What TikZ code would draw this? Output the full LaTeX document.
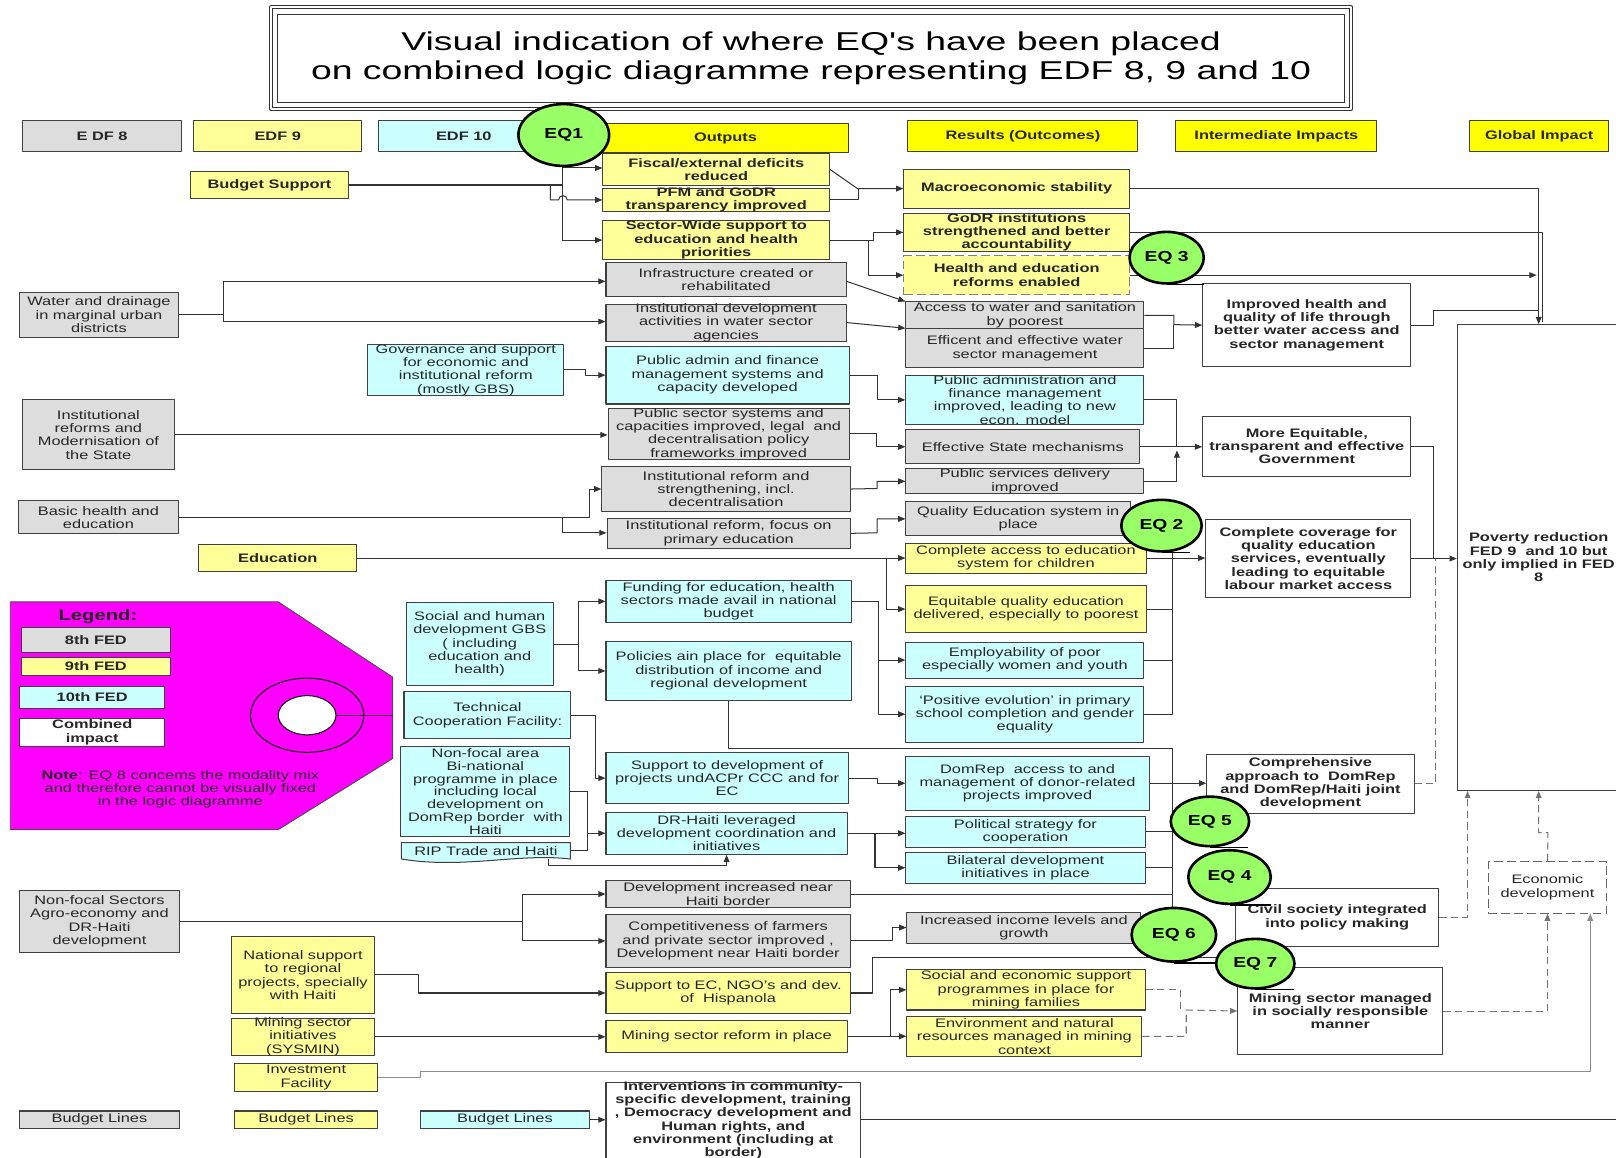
\documentclass[tikz,border=0pt]{standalone}
\usepackage{fontspec}
\setmainfont{Liberation Sans}[FakeStretch=1.33]
\newfontfamily\titlefont{Liberation Sans}[FakeStretch=1.45]
\usetikzlibrary{arrows.meta,calc,positioning,shapes.geometric,backgrounds}
\definecolor{edfgrey}{HTML}{DDDDDD}
\definecolor{edfyellow}{HTML}{FFFF99}
\definecolor{hdyellow}{HTML}{FFFF00}
\definecolor{edfcyan}{HTML}{CCFFFF}
\definecolor{eqgreen}{HTML}{99FF66}
\definecolor{legmag}{HTML}{FF00FF}

\begin{document}
\begin{tikzpicture}[x=0.025cm, y=-0.025cm, >={Triangle[length=5pt,width=4pt]}, line join=round,
	box/.style={draw=black!75, line width=0.7pt, inner xsep=0.5pt, inner ysep=-3pt, align=center, text=black!85, font=\fontsize{8.5}{9.2}\selectfont},
	bbox/.style={box, font=\fontsize{8.5}{9.2}\selectfont\bfseries},
	eighth/.style={box, fill=edfgrey},
	ninth/.style={box, fill=edfyellow},
	ninthb/.style={bbox, fill=edfyellow},
	tenth/.style={box, fill=edfcyan},
	head/.style={bbox, fill=hdyellow},
	impact/.style={bbox, fill=white},
	titlebox/.style={draw=black!80, double, double distance=1.6pt, line width=0.6pt, align=center, inner sep=0pt, font=\titlefont\fontsize{17.8}{20.5}\selectfont},
	eq/.style={ellipse, draw=black, line width=1.8pt, fill=eqgreen, inner sep=0pt, font=\fontsize{10}{12}\selectfont\bfseries},
	conn/.style={draw=black!80, line width=0.7pt},
	dashlink/.style={conn, draw=black!55, dash pattern=on 5pt off 3pt}]
	\def\bx#1#2#3#4#5#6#7{\node[#2, minimum width={(#5-#3)*0.025cm}, minimum height={(#6-#4)*0.025cm}] (#1) at ({(#3+#5)/2},{(#4+#6)/2}) {#7};}
	\useasboundingbox (0,0) rectangle (1568,1123);

	% --- 1. TITLE AND COLUMN HEADERS ---
	\bx{title}{titlebox}{263}{7}{1311}{106}{Visual indication of where EQ's have been placed\\on combined logic diagramme representing EDF 8, 9 and 10}
	\draw[black!80, line width=0.6pt] ([shift={(7,7)}]title.north west) rectangle ([shift={(-7,-7)}]title.south east);
	\bx{hedf8}{bbox,fill=edfgrey}{22}{117}{176}{147}{E DF 8}
	\bx{hedf9}{bbox,fill=edfyellow}{188}{117}{351}{147}{EDF 9}
	\bx{hedf10}{bbox,fill=edfcyan}{367}{117}{533}{147}{EDF 10}
	\bx{hout}{head}{585}{120}{823}{148}{Outputs}
	\bx{hres}{head}{881}{117}{1104}{147}{Results (Outcomes)}
	\bx{himp}{head}{1141}{117}{1336}{147}{Intermediate Impacts}
	\bx{hglob}{head}{1426}{117}{1561}{147}{Global Impact}

	% --- 2. INPUTS (EDF 8, 9, 10) ---
	\bx{bsup}{ninthb}{185}{166}{338}{193}{Budget Support}
	\bx{edu}{ninthb}{193}{528}{346}{555}{Education}
	\bx{water}{eighth}{19}{284}{173}{327}{Water and drainage\\in marginal urban\\districts}
	\bx{modern}{eighth}{22}{388}{169}{456}{Institutional\\reforms and\\Modernisation of\\the State}
	\bx{basic}{eighth}{18}{486}{173}{518}{Basic health and\\education}
	\bx{nonfoc}{eighth}{19}{864}{174}{924}{Non-focal Sectors\\Agro-economy and\\DR-Haiti\\development}
	\bx{blgrey}{eighth}{19}{1078}{174}{1095}{Budget Lines}
	\bx{gov}{tenth}{357}{334}{547}{384}{Governance and support\\for economic and\\institutional reform\\(mostly GBS)}
	\bx{social}{tenth}{394}{585}{537}{665}{Social and human\\development GBS\\( including\\education and\\health)}
	\bx{tcf}{tenth}{392}{671}{554}{717}{Technical\\Cooperation Facility:}
	\bx{binat}{tenth,font=\fontsize{8.5}{8.9}\selectfont}{389}{724}{553}{812}{Non-focal area\\Bi-national\\programme in place\\including local\\development on\\DomRep border~ with\\Haiti}
	\bx{rip}{box,draw=none}{390}{818}{553}{833}{RIP Trade and Haiti}
	\begin{pgfonlayer}{background}
		\filldraw[fill=edfcyan, draw=black!75, line width=0.7pt] (rip.south west) -- (rip.north west) -- (rip.north east) -- (rip.south east) .. controls +(-50,-6) and +(60,10) .. (rip.south west) -- cycle;
	\end{pgfonlayer}
	\bx{natsup}{ninth}{225}{909}{363}{983}{National support\\to regional\\projects, specially\\with Haiti}
	\bx{sysmin}{ninth}{225}{988}{363}{1024}{Mining sector\\initiatives\\(SYSMIN)}
	\bx{invest}{ninth}{228}{1032}{366}{1059}{Investment\\Facility}
	\bx{blyell}{ninth}{228}{1078}{366}{1095}{Budget Lines}
	\bx{blcyan}{tenth}{408}{1078}{572}{1095}{Budget Lines}

	% --- 3. OUTPUTS ---
	\bx{fisc}{ninthb}{585}{149}{805}{180}{Fiscal/external deficits\\reduced}
	\bx{pfm}{ninthb}{585}{183}{805}{205}{PFM and GoDR\\transparency improved}
	\bx{swap}{ninthb}{585}{214}{805}{252}{Sector-Wide support to\\education and health\\priorities}
	\bx{infra}{eighth}{588}{255}{821}{288}{Infrastructure created or\\rehabilitated}
	\bx{instdev}{eighth}{588}{295}{821}{331}{Institutional development\\activities in water sector\\agencies}
	\bx{padmin}{tenth}{588}{336}{824}{392}{Public admin and finance\\management systems and\\capacity developed}
	\bx{psector}{eighth}{590}{396}{824}{446}{Public sector systems and\\capacities improved, legal~ and\\decentralisation policy\\frameworks improved}
	\bx{instref}{eighth}{584}{453}{825}{496}{Institutional reform and\\strengthening, incl.\\decentralisation}
	\bx{instprim}{eighth}{589}{503}{825}{532}{Institutional reform, focus on\\primary education}
	\bx{fund}{tenth}{588}{563}{826}{604}{Funding for education, health\\sectors made avail in national\\budget}
	\bx{policy}{tenth}{588}{622}{826}{680}{Policies ain place for~ equitable\\distribution of income and\\regional development}
	\bx{suppacp}{tenth}{588}{730}{823}{780}{Support to development of\\projects undACPr CCC and for\\EC}
	\bx{drhaiti}{tenth}{588}{788}{822}{829}{DR-Haiti leveraged\\development coordination and\\initiatives}
	\bx{devbord}{eighth}{588}{854}{825}{881}{Development increased near\\Haiti border}
	\bx{compet}{eighth}{588}{887}{825}{939}{Competitiveness of farmers\\and private sector improved ,\\Development near Haiti border}
	\bx{suppec}{ninth}{588}{944}{825}{983}{Support to EC, NGO's and dev.\\of~ Hispanola}
	\bx{minref}{ninth}{588}{990}{822}{1021}{Mining sector reform in place}
	\bx{interv}{impact}{588}{1050}{835}{1124}{Interventions in community-\\specific development, training\\, Democracy development and\\Human rights, and\\environment (including at\\border)}

	% --- 4. RESULTS (OUTCOMES) ---
	\bx{macro}{ninthb}{877}{164}{1096}{202}{Macroeconomic stability}
	\bx{godr}{ninthb}{877}{207}{1096}{244}{GoDR institutions\\strengthened and better\\accountability}
	\bx{hereform}{ninthb,draw=black!50,dash pattern=on 6pt off 3pt}{877}{248}{1096}{286}{Health and education\\reforms enabled}
	\bx{access}{eighth}{879}{293}{1110}{319}{Access to water and sanitation\\by poorest}
	\bx{effic}{eighth}{879}{319}{1110}{357}{Efficent and effective water\\sector management}
	\bx{pafin}{tenth}{879}{364}{1110}{412}{Public administration and\\finance management\\improved, leading to new\\econ. model}
	\bx{effstate}{eighth}{879}{417}{1106}{450}{Effective State mechanisms}
	\bx{pubserv}{eighth}{879}{455}{1110}{479}{Public services delivery\\improved}
	\bx{quality}{eighth}{879}{487}{1097}{520}{Quality Education system in\\place}
	\bx{compacc}{ninth}{879}{527}{1112}{556}{Complete access to education\\system for children}
	\bx{equit}{ninth}{879}{568}{1112}{614}{Equitable quality education\\delivered, especially to poorest}
	\bx{employ}{tenth}{879}{623}{1110}{658}{Employability of poor\\especially women and youth}
	\bx{posevo}{tenth}{879}{666}{1110}{720}{`Positive evolution' in primary\\school completion and gender\\equality}
	\bx{domrep}{tenth}{879}{734}{1115}{786}{DomRep~ access to and\\management of donor-related\\projects improved}
	\bx{polstrat}{tenth}{879}{792}{1111}{822}{Political strategy for\\cooperation}
	\bx{bilat}{tenth}{879}{827}{1111}{857}{Bilateral development\\initiatives in place}
	\bx{income}{eighth}{880}{885}{1107}{915}{Increased income levels and\\growth}
	\bx{socsup}{ninth}{880}{941}{1111}{980}{Social and economic support\\programmes in place for\\mining families}
	\bx{envir}{ninth}{880}{986}{1108}{1025}{Environment and natural\\resources managed in mining\\context}

	% --- 5. IMPACTS ---
	\bx{imphealth}{impact}{1167}{275}{1369}{356}{Improved health and\\quality of life through\\better water access and\\sector management}
	\bx{equigov}{impact}{1167}{404}{1369}{462}{More Equitable,\\transparent and effective\\Government}
	\bx{covedu}{impact}{1170}{504}{1369}{580}{Complete coverage for\\quality education\\services, eventually\\leading to equitable\\labour market access}
	\bx{compdom}{impact}{1171}{732}{1372}{789}{Comprehensive\\approach to~ DomRep\\and DomRep/Haiti joint\\development}
	\bx{civil}{impact}{1199}{862}{1396}{918}{Civil society integrated\\into policy making}
	\bx{minsoc}{impact}{1201}{939}{1400}{1023}{Mining sector managed\\in socially responsible\\manner}
	\bx{poverty}{impact}{1414}{315}{1572}{767}{Poverty reduction\\FED 9~ and 10 but\\only implied in FED\\8}
	\bx{econdev}{box,fill=white,draw=black!60,dash pattern=on 6pt off 3pt}{1444}{836}{1559}{886}{Economic\\development}

	% --- 6. LEGEND ---
	\filldraw[fill=legmag, draw=black!70, line width=0.6pt] (10,584) -- (270,584) -- (381,657) -- (381,736) -- (270,805) -- (10,805) -- cycle;
	\node[text=black!85, font=\fontsize{10.5}{12}\selectfont\bfseries] (legtitle) at (95,598) {Legend:};
	\bx{legeight}{bbox,fill=edfgrey}{21}{609}{165}{633}{8th FED}
	\bx{legnine}{bbox,fill=edfyellow}{21}{638}{165}{655}{9th FED}
	\bx{legten}{bbox,fill=edfcyan}{19}{666}{160}{687}{10th FED}
	\bx{legcomb}{bbox,fill=white}{19}{697}{160}{724}{Combined\\impact}
	\node[ellipse, draw=black, line width=0.7pt, fill=legmag, minimum width=2.75cm, minimum height=1.8cm] (ring) at (298,694) {};
	\node[ellipse, draw=black, line width=0.7pt, fill=white, minimum width=1.4cm, minimum height=0.95cm] (hole) at (298,694) {};
	\draw[conn] (hole.east) -- (hole.east -| 381,0);
	\node[align=center, text=black!85, font=\fontsize{8.5}{9.2}\selectfont] (note) at (175,766) {\textbf{Note}: EQ 8 concems the modality mix\\and therefore cannot be visually fixed\\in the logic diagramme};

	% --- 7. CONNECTORS ---
	\draw[conn,->] (bsup.east) -| (546,163) -- (fisc.west |- 0,163);
	\draw[conn,->] (bsup.east) -| (546,233) -- (swap.west);
	\draw[conn,->] (bsup.east) -| (534,194) -- (542,194) arc[start angle=180,end angle=0,radius=3pt] -- (pfm.west);
	\draw[conn,->] (fisc.east) -- (832,183) -- (macro.west);
	\draw[conn] (pfm.east) -| (833,183);
	\draw[conn,->] (swap.east) -- (848,233) |- (godr.west);
	\draw[conn,->] (swap.east) -- (843,233) |- (hereform.west);
	\draw[conn,->] (water.east) -| (217,273) -- (infra.west |- 0,273);
	\draw[conn,->] (water.east) -| (217,312) -- (instdev.west |- 0,312);
	\draw[conn,->] (infra.east |- 0,273) -- (access.north west);
	\draw[conn,->] (instdev.east |- 0,313) -- (effic.north west);
	\draw[conn,->] (access.east) -| (1139,315) -- (imphealth.west);
	\draw[conn] (effic.east) -| (1139,315);
	\draw[conn,->] (gov.east) -- (568,359) |- (padmin.west);
	\draw[conn,->] (padmin.east) -- (851,364) |- (pafin.west);
	\draw[conn,->] (modern.east) -- (psector.west |- modern.east);
	\draw[conn,->] (psector.east) -- (850,421) |- (effstate.west);
	\draw[conn] (pafin.east) -| (1142,433);
	\draw[conn,->] (pubserv.east) -| (1142,437);
	\draw[conn,->] (effstate.east) -- (equigov.west |- effstate.east);
	\draw[conn,->] (basic.east) -- (572,502) |- (instref.west);
	\draw[conn,->] (basic.east) -| (546,517) -- (instprim.west |- 0,517);
	\draw[conn,->] (instref.east) -- (851,474) |- (pubserv.west);
	\draw[conn,->] (instprim.east) -- (851,517) |- (quality.west);
	\draw[conn,->] (edu.east) -- (compacc.west |- edu.east);
	\draw[conn,->] (edu.east) -| (860,591) -- (equit.west);
	\draw[conn] (quality.east) -| (1138,693) -- (posevo.east);
	\draw[conn] (equit.east) -- (equit.east -| 1138,0);
	\draw[conn] (employ.east) -- (employ.east -| 1138,0);
	\draw[conn,->] (compacc.east) -- (covedu.west |- compacc.east);
	\draw[conn,->] (social.east) -- (561,625) |- (fund.west);
	\draw[conn,->] (social.east) -| (561,651) -- (policy.west);
	\draw[conn,->] (fund.east) -| (852,693) -- (posevo.west);
	\draw[conn,->] (fund.east) -| (852,640.5) -- (employ.west);
	\draw[conn] (policy.south) |- (1138,726) -- (1138,881);
	\draw[conn,->] (tcf.east) -| (578,755) -- (suppacp.west);
	\draw[conn,->] (binat.east) -| (570,808.5) -- (drhaiti.west);
	\draw[conn] (rip.east) -| (570,808.5);
	\draw[conn,->] (rip.south -| 532,0) -- (532,840) -| (drhaiti.south);
	\draw[conn,->] (suppacp.east) -- (851,755) |- (domrep.west);
	\draw[conn,->] (domrep.east) -- (compdom.west |- domrep.east);
	\draw[conn,->] (drhaiti.east) -- (polstrat.west |- drhaiti.east);
	\draw[conn,->] (drhaiti.east) -| (849,842) -- (bilat.west);
	\draw[conn] (polstrat.east) -- (polstrat.east -| 1138,0);
	\draw[conn] (bilat.east) -- (bilat.east -| 1138,0);
	\draw[conn,->] (nonfoc.east) -| (507,867.5) -- (devbord.west);
	\draw[conn,->] (nonfoc.east) -| (507,913) -- (compet.west);
	\draw[conn] (devbord.east) -- (devbord.east -| 1138,0);
	\draw[conn,->] (compet.east) -- (866,913) |- (income.west);
	\draw[conn,->] (natsup.east) -- (406,946) |- (suppec.west);
	\draw[conn] (suppec.east) -- (847,963.5) |- (1180,929);
	\draw[conn,->] (sysmin.east) -- (minref.west |- sysmin.east);
	\draw[conn,->] (minref.east) -- (864,1005.5) |- (socsup.west);
	\draw[conn,->] (minref.east) -- (envir.west |- minref.east);
	\draw[dashlink] (socsup.east) -| (1145,980);
	\draw[dashlink,->] (envir.east) -| (1151,980) -- (minsoc.west);
	\draw[dashlink,->] (minsoc.east) -| (econdev.south);
	\draw[conn,draw=black!45,->] (invest.east) -| (408,1040) -| (econdev.south -| 1543,0);
	\draw[conn,->] (blcyan.east) -- (interv.west |- blcyan.east);
	\draw[conn] (interv.east |- blcyan.east) -- (1600,1086.5);
	\draw[conn,->] (covedu.east) -- (poverty.west |- covedu.east);
	\draw[conn] (equigov.east) -| (1391,542);
	\draw[dashlink] (compdom.east) -| (1393,542);
	\draw[dashlink,->] (civil.east) -| (poverty.south -| 1424,0);
	\draw[dashlink,->] (econdev.north) -- (1502,808) -| (poverty.south -| 1493,0);
	\draw[conn,->] (macro.east) -| (poverty.north);
	\draw[conn] (godr.east) -| (1497,312);
	\draw[conn,->] (hereform.east) -- (1491,267);
	\draw[conn] (imphealth.east) -- (1391,315.5) |- (1493,301);

	% --- 8. EVALUATION QUESTIONS ---
	\node[eq, minimum width=2.2cm, minimum height=1.5cm] (eqone) at (547,131) {EQ1};
	\node[eq, minimum width=1.8cm, minimum height=1.25cm] (eqthree) at (1132,250) {EQ 3};
	\node[eq, minimum width=1.95cm, minimum height=1.25cm] (eqtwo) at (1127,510) {EQ 2};
	\node[eq, minimum width=1.9cm, minimum height=1.2cm] (eqfive) at (1174,797) {EQ 5};
	\node[eq, minimum width=2cm, minimum height=1.3cm] (eqfour) at (1193,851) {EQ 4};
	\node[eq, minimum width=2.05cm, minimum height=1.3cm] (eqsix) at (1139,907) {EQ 6};
	\node[eq, minimum width=1.9cm, minimum height=1.2cm] (eqseven) at (1218,935) {EQ 7};
	\foreach \n/\r in {eqtwo/28, eqthree/36, eqfour/40, eqfive/37, eqsix/41, eqseven/38}
		\draw[line width=1pt] (\n.south) -- ++(\r,0);
\end{tikzpicture}
\end{document}
